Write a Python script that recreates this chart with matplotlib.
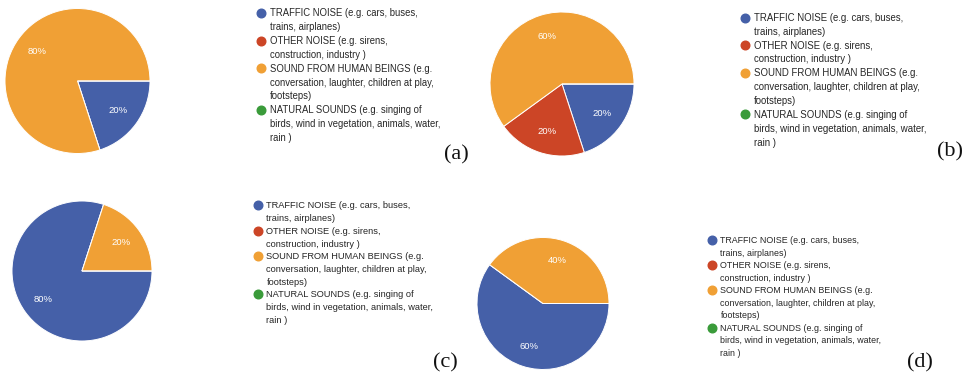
import matplotlib
matplotlib.use("Agg")
import matplotlib.pyplot as plt
from matplotlib.lines import Line2D

# --- data -------------------------------------------------------------
categories = ["TRAFFIC NOISE", "OTHER NOISE", "SOUND FROM HUMAN BEINGS", "NATURAL SOUNDS"]
legend_lines = [
    ["TRAFFIC NOISE (e.g. cars, buses,", "trains, airplanes)"],
    ["OTHER NOISE (e.g. sirens,", "construction, industry )"],
    ["SOUND FROM HUMAN BEINGS (e.g.", "conversation, laughter, children at play,", "footsteps)"],
    ["NATURAL SOUNDS (e.g. singing of", "birds, wind in vegetation, animals, water,", "rain )"],
]
colors = ["#4560A8", "#CC4526", "#F0A035", "#3A9B3A"]

shares_a = [20, 0, 80, 0]
shares_b = [20, 20, 60, 0]
shares_c = [80, 0, 20, 0]
shares_d = [60, 0, 40, 0]
panel_labels = ["(a)", "(b)", "(c)", "(d)"]

# --- layout (pixels) --------------------------------------------------
W, H = 967, 377
panels = [
    # shares,   pie centre, radius, legend top-left, legend font, label pos
    (shares_a, (77.5, 81), 72.5, (257, 8.5), 6.85, (456.5, 155)),
    (shares_b, (562, 84), 72, (741, 13), 6.9, (950, 152)),
    (shares_c, (82, 271), 70, (254, 201.5), 6.65, (445, 363)),
    (shares_d, (543, 303.5), 66, (708.5, 236), 6.4, (920, 363)),
]


def fx(x):
    return x / W


def fy(y):
    return 1 - y / H


def pct(p):
    return f"{p:.0f}%" if p > 0.5 else ""


fig = plt.figure(figsize=(W / 100, H / 100), dpi=100)
fig.patch.set_facecolor("white")

for (shares, (cx, cy), r, (lx, ly), lfs, (tx, ty)), plabel in zip(panels, panel_labels):
    ax = fig.add_axes([fx(cx - r), fy(cy + r), 2 * r / W, 2 * r / H])
    wedges, texts, autotexts = ax.pie(
        shares, colors=colors, startangle=0, counterclock=False,
        autopct=pct, pctdistance=0.69,
        wedgeprops=dict(edgecolor="white", linewidth=0.7),
        textprops=dict(color="white", fontsize=6.8, family="Liberation Sans"))
    ax.set_xlim(-1, 1)
    ax.set_ylim(-1, 1)

    # legend: one row per text line, marker only on the first line
    handles, labels = [], []
    for color, lines in zip(colors, legend_lines):
        for i, line in enumerate(lines):
            if i == 0:
                h = Line2D([], [], marker="o", linestyle="none", color=color,
                           markersize=6.2)
            else:
                h = Line2D([], [], marker="None", linestyle="none")
            handles.append(h)
            labels.append(line)
    leg = fig.legend(handles, labels, loc="upper left",
                     bbox_to_anchor=(fx(lx), fy(ly)), frameon=False,
                     borderpad=0, borderaxespad=0, handlelength=0.8,
                     handletextpad=0.55, labelspacing=0.40,
                     prop=dict(family="Liberation Sans", size=lfs))
    for t in leg.get_texts():
        t.set_color("#262626")

    fig.text(fx(tx), fy(ty), plabel, ha="center", va="center",
             fontsize=16, family="Liberation Serif", color="#111111")

fig.savefig("out.png", dpi=100)
